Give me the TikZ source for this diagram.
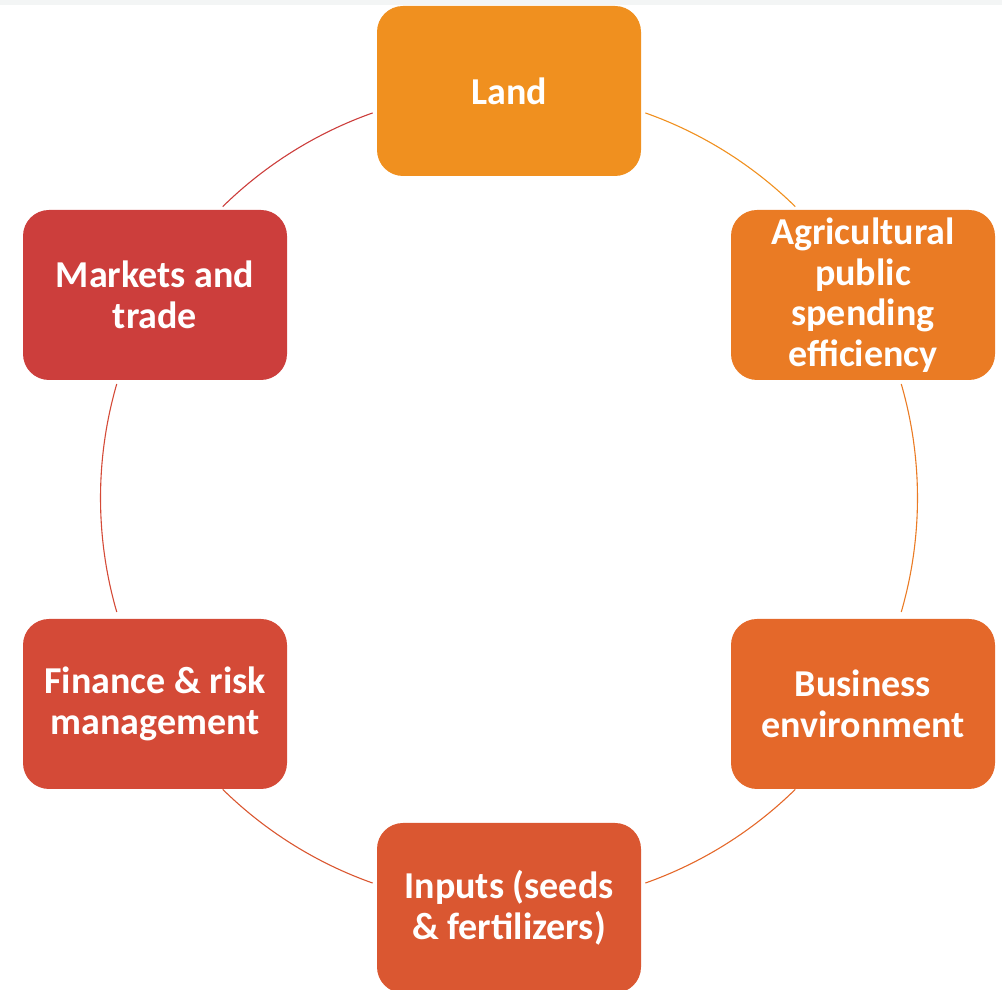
\documentclass[tikz,border=0pt]{standalone}
\usepackage{fontspec}
\setmainfont{Carlito}
\definecolor{cLand}{HTML}{F0901F}
\definecolor{cAgri}{HTML}{EA7B24}
\definecolor{cBus}{HTML}{E4682A}
\definecolor{cInp}{HTML}{DA5731}
\definecolor{cFin}{HTML}{D44A37}
\definecolor{cMkt}{HTML}{CC3E3C}
\definecolor{strip}{HTML}{F3F5F5}
\begin{document}
\begin{tikzpicture}[x=1pt,y=1pt,
  box/.style={rectangle, rounded corners=26pt, minimum width=264pt, minimum height=170pt,
    inner sep=0pt, text=white, align=center,
    font=\fontsize{38}{40.5}\selectfont\bfseries},
  ring/.style={line width=1.1pt}]
\useasboundingbox (0,0) rectangle (1002,990);
\clip (0,0) rectangle (1002,990);
\fill[strip] (0,985) rectangle (1002,990);
\coordinate (c) at (509,492);
\node[box, fill=cLand] (land) at (509,899) {Land};
\node[box, fill=cAgri] (agri) at (863,695) {Agricultural\\public\\spending\\efficiency};
\node[box, fill=cBus] (bus) at (863,286) {Business\\environment};
\node[box, fill=cInp] (inp) at (509,82) {Inputs (seeds\\\& fertilizers)};
\node[box, fill=cFin] (fin) at (155,286) {Finance \& risk\\management};
\node[box, fill=cMkt] (mkt) at (155,695) {Markets and\\trade};
\draw[ring, cLand] ([shift={(70.5:408.5pt)}]c) arc[start angle=70.5, end angle=45.5, radius=408.5pt];
\draw[ring, cAgri] ([shift={(16.2:408.5pt)}]c) arc[start angle=16.2, end angle=-16.2, radius=408.5pt];
\draw[ring, cBus] ([shift={(-45.5:408.5pt)}]c) arc[start angle=-45.5, end angle=-70.5, radius=408.5pt];
\draw[ring, cInp] ([shift={(-109.5:408.5pt)}]c) arc[start angle=-109.5, end angle=-134.5, radius=408.5pt];
\draw[ring, cFin] ([shift={(-163.8:408.5pt)}]c) arc[start angle=-163.8, end angle=-196.2, radius=408.5pt];
\draw[ring, cMkt] ([shift={(134.5:408.5pt)}]c) arc[start angle=134.5, end angle=109.5, radius=408.5pt];
\end{tikzpicture}
\end{document}
